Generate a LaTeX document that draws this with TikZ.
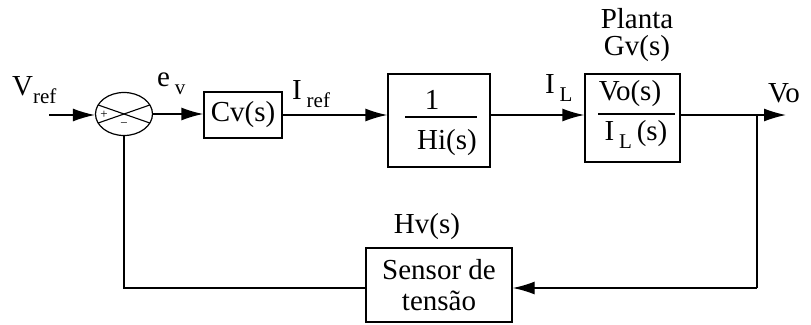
\documentclass[tikz,border=0pt]{standalone}
\usepackage{fontspec}
\newfontfamily\timesf{LiberationSerif-Regular.ttf}
\usetikzlibrary{arrows.meta,shapes.geometric,calc}
\newcommand\mysub[1]{\raisebox{-0.28em}{\fontsize{21}{21}\selectfont #1}}
\begin{document}
\begin{tikzpicture}[x=1pt,y=-1pt,
  txt/.style={inner sep=0pt,font=\timesf\fontsize{29}{31}\selectfont},
  blk/.style={draw,line width=1.4pt,inner sep=0pt,rectangle},
  ln/.style={line width=1.4pt},
  arr/.style={line width=1.4pt,-{Latex[length=22pt,width=13pt]}},
  sign/.style={inner sep=0pt,font=\timesf\fontsize{13}{13}\selectfont}]
\useasboundingbox (0,0) rectangle (811,324);
% nodes
\coordinate (in) at (49,115);
\node[draw,ellipse,line width=1.2pt,minimum width=57pt,minimum height=43pt,inner sep=0pt] (sum) at (124,114) {};
\node[blk,minimum width=78pt,minimum height=46pt,txt] (cv) at (243,115) {Cv(s)};
\node[blk,minimum width=102pt,minimum height=93pt] (hi) at (439,120.5) {};
\node[blk,minimum width=95pt,minimum height=88pt] (pl) at (632.5,118) {};
\node[blk,minimum width=146pt,minimum height=74pt,txt,align=center] (sen) at (439,285) {Sensor de\\tensão};
\coordinate (out) at (786,115);
\coordinate (j) at (757,115);
\coordinate (jb) at (757,288);
\coordinate (fb) at (124,288);
% summing junction cross and signs
\draw[line width=1.1pt] ($(sum.center)+(-25.8,-9)$) -- ($(sum.center)+(25.8,9)$);
\draw[line width=1.1pt] ($(sum.center)+(25.8,-9)$) -- ($(sum.center)+(-25.8,9)$);
\node[sign] (plus) at (104,115) {+};
\node[sign] (minus) at (124,125) {\textminus};
% block contents
\node[txt] (one) at (432,100) {1};
\draw[ln] (405,117) -- (477,117);
\node[txt] (hitxt) at (447,143) {Hi(s)};
\node[txt] (votxt) at (630,94) {Vo(s)};
\draw[ln] (598,114) -- (675,114);
\node[txt] (iltxt) at (636,134) {I\,\mysub{L}\,(s)};
% labels
\node[txt,anchor=west] (lvref) at (12,90) {V\mysub{ref}};
\node[txt,anchor=west] (lev) at (157,84) {e\,\mysub{v}};
\node[txt,anchor=west] (liref) at (292,94) {I\,\mysub{ref}};
\node[txt,anchor=west] (lil) at (545,88) {I\,\mysub{L}};
\node[txt,anchor=west] (lvo) at (768,93) {Vo};
\node[txt] (lplanta) at (637,19) {Planta};
\node[txt] (lgv) at (637,49) {Gv(s)};
\node[txt] (lhv) at (427,227) {Hv(s)};
% connectors
\draw[arr] (in) -- (in -| sum.west);
\draw[arr] (sum.east) -- (sum.east -| cv.west);
\draw[arr] (cv.east) -- (cv.east -| hi.west);
\draw[arr] (hi.east |- cv.east) -- (cv.east -| pl.west);
\draw[arr] (pl.east |- out) -- (out);
\draw[ln] (j) -- (jb);
\draw[arr] (jb) -- (jb -| sen.east);
\draw[ln] (jb -| sen.west) -- (fb) -- (sum.south);
\end{tikzpicture}
\end{document}
